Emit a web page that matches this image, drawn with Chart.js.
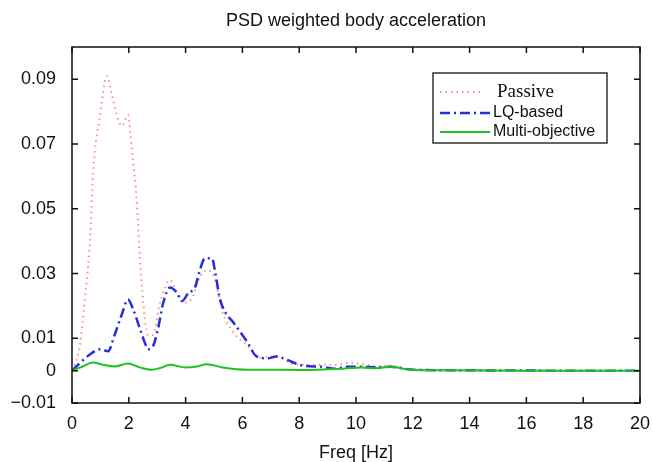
<!DOCTYPE html>
<html>
<head>
<meta charset="utf-8">
<script src="https://cdn.jsdelivr.net/npm/chart.js@4"></script>
<style>
  body { margin: 0; background: #fff; }
  #wrap { width: 653px; height: 462px; }
</style>
</head>
<body>
<div id="wrap"><canvas id="myChart" width="653" height="462"></canvas></div>
<script>
// values
let passiveFreq = [0, 0.15, 0.28, 0.45, 0.63, 0.74, 0.99, 1.23, 1.41, 1.58, 1.76, 1.97, 2.11, 2.29, 2.39, 2.57, 2.68, 2.85, 3.1, 3.45, 3.7, 3.9, 4.2, 4.5, 4.75, 5.0, 5.3, 5.67, 6.27, 6.6, 7.2, 7.8, 8.5, 9.3, 9.8, 10.2, 10.7, 11.2, 12, 14, 17, 20];
let passive = [0, 0.003, 0.008, 0.022, 0.040, 0.061, 0.079, 0.091, 0.085, 0.079, 0.0756, 0.079, 0.068, 0.051, 0.035, 0.016, 0.011, 0.011, 0.021, 0.028, 0.024, 0.021, 0.022, 0.029, 0.031, 0.029, 0.018, 0.012, 0.007, 0.004, 0.0044, 0.002, 0.0018, 0.0018, 0.0025, 0.002, 0.0015, 0.0015, 0.0003, 0.0001, 0, 0];

let lqFreq = [0, 0.63, 1.0, 1.27, 1.5, 1.76, 1.97, 2.15, 2.39, 2.57, 2.68, 2.85, 3.03, 3.2, 3.45, 3.7, 3.87, 4.1, 4.33, 4.5, 4.68, 4.93, 5.05, 5.2, 5.4, 5.67, 6.16, 6.5, 6.9, 7.2, 7.55, 8.1, 8.8, 9.26, 9.7, 10.2, 10.7, 11.2, 12, 14, 17, 20];
let lqBased = [0, 0.005, 0.0066, 0.006, 0.011, 0.0175, 0.022, 0.019, 0.013, 0.0085, 0.0066, 0.0075, 0.013, 0.0205, 0.0257, 0.024, 0.0215, 0.024, 0.0257, 0.031, 0.0347, 0.0347, 0.030, 0.0225, 0.018, 0.015, 0.009, 0.0044, 0.0038, 0.0044, 0.0034, 0.0016, 0.0012, 0.0006, 0.0012, 0.0012, 0.001, 0.0012, 0.0003, 0.0001, 0, 0];

let moFreq = [0, 0.35, 0.74, 1.1, 1.5, 1.97, 2.39, 2.8, 3.1, 3.45, 4.0, 4.4, 4.75, 5.3, 6.2, 6.7, 8, 9.5, 10.2, 10.7, 11.2, 11.9, 13, 16, 20];
let multiObj = [0, 0.0012, 0.0025, 0.0018, 0.0013, 0.0022, 0.001, 0.0003, 0.0008, 0.0018, 0.001, 0.0013, 0.002, 0.001, 0.0003, 0.0003, 0.0002, 0.0006, 0.001, 0.0007, 0.0012, 0.0003, 0.0001, 0, 0];

let yTicks = [-0.01, 0, 0.01, 0.03, 0.05, 0.07, 0.09];
let xTicks = [0, 2, 4, 6, 8, 10, 12, 14, 16, 18, 20];

let pts = (xs, ys) => xs.map((x, i) => ({ x: x, y: ys[i] }));

let sans = '"Liberation Sans", Arial, sans-serif';

// frame, inward ticks, title and legend box
let decorations = {
  id: 'decorations',
  afterDraw(chart) {
    let ctx = chart.ctx;
    let a = chart.chartArea;
    let xs = chart.scales.x, ys = chart.scales.y;
    ctx.save();
    ctx.strokeStyle = '#111';
    ctx.lineWidth = 1.5;
    ctx.strokeRect(a.left, a.top, a.right - a.left, a.bottom - a.top);
    ctx.beginPath();
    xTicks.forEach((t) => {
      let px = xs.getPixelForValue(t);
      ctx.moveTo(px, a.bottom); ctx.lineTo(px, a.bottom - 6);
      ctx.moveTo(px, a.top); ctx.lineTo(px, a.top + 6);
    });
    yTicks.forEach((t) => {
      let py = ys.getPixelForValue(t);
      ctx.moveTo(a.left, py); ctx.lineTo(a.left + 6, py);
      ctx.moveTo(a.right, py); ctx.lineTo(a.right - 6, py);
    });
    ctx.stroke();

    // title
    ctx.fillStyle = '#111';
    ctx.font = '18px ' + sans;
    ctx.textAlign = 'center';
    ctx.textBaseline = 'middle';
    ctx.fillText('PSD weighted body acceleration', (a.left + a.right) / 2, 21);

    // legend
    let bx = 433, by = 73, bw = 174, bh = 70;
    ctx.fillStyle = '#fff';
    ctx.fillRect(bx, by, bw, bh);
    ctx.strokeStyle = '#333';
    ctx.lineWidth = 1.5;
    ctx.strokeRect(bx, by, bw, bh);
    let rows = [
      { y: 92, font: '19px "Liberation Serif", "Times New Roman", serif', tx: 497, x2: 480 },
      { y: 113, font: '16px ' + sans, tx: 493, x2: 490 },
      { y: 132, font: '16px ' + sans, tx: 493, x2: 490 }
    ];
    chart.data.datasets.forEach((ds, i) => {
      let r = rows[i];
      ctx.strokeStyle = ds.borderColor;
      ctx.lineWidth = ds.borderWidth;
      ctx.setLineDash(ds.borderDash || []);
      ctx.beginPath();
      ctx.moveTo(440, r.y); ctx.lineTo(r.x2, r.y);
      ctx.stroke();
      ctx.setLineDash([]);
      ctx.fillStyle = '#111';
      ctx.font = r.font;
      ctx.textAlign = 'left';
      ctx.fillText(ds.label, r.tx, r.y);
    });
    ctx.restore();
  }
};

var ctx = document.getElementById('myChart').getContext('2d');
var myChart = new Chart(ctx, {
  type: 'line',
  data: {
    datasets: [
      {
        label: 'Passive',
        data: pts(passiveFreq, passive),
        borderColor: '#f58f8f',
        borderWidth: 2,
        borderDash: [1.5, 4],
        pointRadius: 0,
        cubicInterpolationMode: 'monotone',
        order: 3
      },
      {
        label: 'LQ-based',
        data: pts(lqFreq, lqBased),
        borderColor: '#2430d8',
        borderWidth: 2.5,
        borderDash: [10, 4, 2, 4],
        pointRadius: 0,
        cubicInterpolationMode: 'monotone',
        order: 2
      },
      {
        label: 'Multi-objective',
        data: pts(moFreq, multiObj),
        borderColor: '#1ec21e',
        borderWidth: 2,
        pointRadius: 0,
        cubicInterpolationMode: 'monotone',
        order: 1
      }
    ]
  },
  options: {
    responsive: false,
    animation: false,
    layout: { padding: { top: 47, right: 13, left: 0, bottom: 0 } },
    plugins: { legend: { display: false }, tooltip: { enabled: false } },
    scales: {
      x: {
        type: 'linear',
        min: 0, max: 20,
        afterBuildTicks: (s) => { s.ticks = xTicks.map((v) => ({ value: v })); },
        afterFit: (s) => { s.height = 59; s.paddingRight = 0; s.paddingLeft = 0; },
        grid: { display: false, drawTicks: false },
        border: { display: false },
        ticks: {
          padding: 10,
          color: '#111',
          font: { family: sans, size: 18 }
        },
        title: {
          display: true,
          text: 'Freq [Hz]',
          color: '#111',
          padding: { top: 0, bottom: -2 },
          font: { family: sans, size: 18 }
        }
      },
      y: {
        type: 'linear',
        min: -0.01, max: 0.1,
        afterBuildTicks: (s) => { s.ticks = yTicks.map((v) => ({ value: v })); },
        afterFit: (s) => { s.width = 72; s.paddingTop = 0; s.paddingBottom = 0; },
        grid: { display: false, drawTicks: false },
        border: { display: false },
        ticks: {
          padding: 16,
          color: '#111',
          font: { family: sans, size: 18 },
          callback: (v) => v === 0 ? '0' : (v < 0 ? '\u2212' + Math.abs(v).toFixed(2) : v.toFixed(2))
        }
      }
    }
  },
  plugins: [decorations]
});
</script>
</body>
</html>
